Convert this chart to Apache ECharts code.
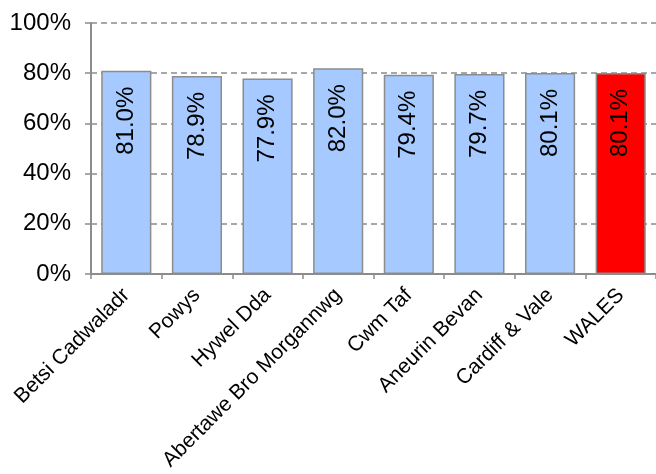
<!DOCTYPE html>
<html>
<head>
<meta charset="utf-8">
<script src="https://cdn.jsdelivr.net/npm/echarts@6/dist/echarts.min.js"></script>
<style>
html,body{margin:0;padding:0;background:#fff;}
#c{width:656px;height:474px;}
</style>
</head>
<body>
<div id="c"></div>
<script>
const categories = ["Betsi Cadwaladr","Powys","Hywel Dda","Abertawe Bro Morgannwg","Cwm Taf","Aneurin Bevan","Cardiff & Vale","WALES"];
const values = [81.0, 78.9, 77.9, 82.0, 79.4, 79.7, 80.1, 80.1];
const highlight = ["WALES"];
const yTicks = [0, 20, 40, 60, 80, 100];

const FONT = '"Liberation Sans", Arial, sans-serif';
const chart = echarts.init(document.getElementById('c'), null, {renderer: 'canvas'});
chart.setOption({
  animation: false,
  backgroundColor: '#fff',
  grid: {left: 91, right: 0, top: 23, bottom: 200, containLabel: false, outerBoundsMode: 'none'},
  xAxis: {
    type: 'category',
    data: categories,
    axisLine: {lineStyle: {color: '#8c8c8c', width: 2}},
    axisTick: {show: true, length: 5, lineStyle: {color: '#8c8c8c', width: 1.5}},
    axisLabel: {rotate: 45, margin: 18, color: '#000', fontSize: 21, fontFamily: FONT, interval: 0}
  },
  yAxis: {
    type: 'value',
    min: 0, max: 100, interval: 20,
    axisLine: {show: true, lineStyle: {color: '#8c8c8c', width: 2}},
    axisTick: {show: true, length: 6, lineStyle: {color: '#8c8c8c', width: 1.5}},
    splitLine: {show: true, lineStyle: {color: '#8c8c8c', type: [6, 4], width: 1.5}},
    axisLabel: {
      margin: 20, color: '#000', fontSize: 24, fontFamily: FONT,
      formatter: function (v) { return yTicks.indexOf(v) >= 0 ? v + '%' : ''; }
    }
  },
  series: [{
    type: 'bar',
    barCategoryGap: '29%',
    data: values.map(function (v, i) {
      return {
        value: v,
        itemStyle: {color: highlight.indexOf(categories[i]) >= 0 ? '#ff0000' : '#a6caff'}
      };
    }),
    itemStyle: {borderColor: '#8c8c8c', borderWidth: 1.5},
    label: {
      show: true,
      position: 'insideTop',
      distance: 16,
      rotate: 90,
      align: 'right',
      verticalAlign: 'middle',
      color: '#000',
      fontSize: 24,
      fontFamily: FONT,
      formatter: function (p) { return p.value.toFixed(1) + '%'; }
    }
  }]
});
</script>
</body>
</html>
